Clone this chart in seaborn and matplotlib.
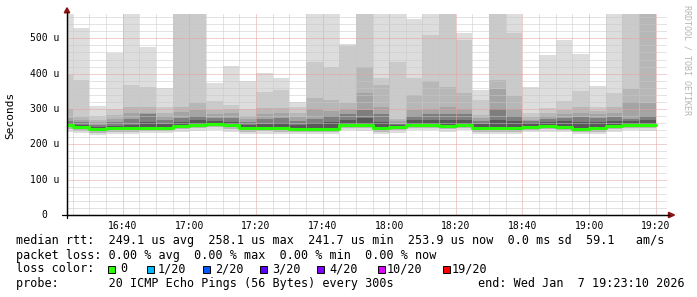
import matplotlib
matplotlib.use("Agg")
import matplotlib.pyplot as plt
import matplotlib.transforms as mtransforms
from matplotlib.patches import Rectangle, Polygon
from matplotlib.lines import Line2D
import numpy as np
import pandas as pd
import seaborn as sns

# ---------------- data (5-minute steps, values in microseconds) ----------------
times = ["16:20", "16:25", "16:30", "16:35", "16:40", "16:45", "16:50", "16:55",
         "17:00", "17:05", "17:10", "17:15", "17:20", "17:25", "17:30", "17:35",
         "17:40", "17:45", "17:50", "17:55", "18:00", "18:05", "18:10", "18:15",
         "18:20", "18:25", "18:30", "18:35", "18:40", "18:45", "18:50", "18:55",
         "19:00", "19:05", "19:10", "19:15"]
end_time = "19:20"

median = [255, 250, 242, 245, 245, 246, 246, 252, 256, 258, 254, 245, 246, 246, 243, 244,
          244, 255, 255, 245, 250, 255, 255, 252, 256, 246, 245, 245, 250, 252, 250, 244,
          246, 252, 255, 254]
ping20 = [640, 528, 308, 457, 640, 476, 360, 640, 640, 374, 421, 380, 401, 387, 321, 640,
          640, 483, 640, 640, 640, 556, 640, 640, 516, 354, 640, 640, 363, 453, 495, 455,
          365, 640, 640, 640]
ping19 = [396, 382, 280, 300, 368, 363, 306, 620, 620, 323, 311, 299, 349, 354, 306, 434,
          420, 478, 620, 387, 434, 387, 509, 620, 495, 325, 620, 514, 288, 302, 323, 352,
          306, 344, 620, 620]
ping18 = [300, 278, 270, 283, 306, 306, 290, 306, 316, 296, 300, 280, 302, 302, 290, 330,
          325, 316, 420, 368, 273, 339, 380, 363, 344, 283, 382, 337, 278, 290, 296, 306,
          295, 306, 357, 610]
ping17 = [275, 270, 262, 272, 290, 288, 280, 292, 296, 285, 288, 272, 285, 290, 278, 300,
          295, 300, 344, 306, 265, 297, 300, 306, 300, 275, 356, 300, 270, 280, 285, 290,
          285, 290, 320, 316]
ping15 = [266, 262, 255, 262, 272, 285, 270, 275, 280, 275, 275, 264, 272, 275, 265, 273,
          280, 285, 297, 285, 258, 280, 285, 285, 285, 266, 300, 280, 265, 272, 275, 278,
          275, 278, 272, 280]
ping13 = [260, 256, 249, 252, 255, 262, 258, 262, 268, 266, 263, 255, 258, 260, 255, 260,
          262, 268, 275, 262, 254, 268, 270, 268, 270, 258, 270, 265, 260, 264, 265, 262,
          262, 266, 265, 268]
ping7 = [250, 245, 238, 241, 241, 242, 242, 248, 251, 253, 250, 241, 242, 242, 239, 240,
         240, 251, 250, 241, 246, 251, 251, 248, 252, 242, 241, 241, 246, 248, 246, 240,
         242, 248, 251, 250]
ping3 = [244, 239, 233, 236, 236, 237, 237, 243, 246, 248, 244, 236, 237, 236, 234, 235,
         235, 246, 245, 236, 240, 246, 246, 243, 247, 236, 236, 236, 241, 243, 241, 235,
         236, 243, 246, 245]
ping1 = [236, 232, 226, 230, 230, 231, 231, 236, 238, 240, 236, 230, 230, 229, 228, 228,
         229, 240, 238, 230, 233, 240, 240, 236, 240, 230, 230, 229, 234, 236, 235, 229,
         229, 236, 240, 238]

xtick_labels = ["16:40", "17:00", "17:20", "17:40", "18:00", "18:20", "18:40", "19:00", "19:20"]
ytick_values = [0, 100, 200, 300, 400, 500]
ytick_labels = ["0", "100 u", "200 u", "300 u", "400 u", "500 u"]

loss_labels = ["0", "1/20", "2/20", "3/20", "4/20", "10/20", "19/20"]
loss_colors = ["#26ff00", "#00b8ff", "#0059ff", "#5e00ff", "#7e00ff", "#dd00ff", "#ff0000"]

line_rtt = "median rtt:  249.1 us avg  258.1 us max  241.7 us min  253.9 us now  0.0 ms sd  59.1   am/s"
line_loss = "packet loss: 0.00 % avg  0.00 % max  0.00 % min  0.00 % now"
line_probe = "probe:       20 ICMP Echo Pings (56 Bytes) every 300s"
line_end = "end: Wed Jan  7 19:23:10 2026"

# ---------------- helpers ----------------
def to_min(s):
    h, m = s.split(":")
    return (int(h) - 16) * 60 + int(m)

x = [to_min(t) for t in times] + [to_min(end_time)]

def ext(a):
    return list(a) + [a[-1]]

W, H = 697, 297
sns.set_style("white")
plt.rcParams['font.family'] = ['DejaVu Sans Mono', 'DejaVu Sans']

fig = plt.figure(figsize=(W / 100, H / 100), dpi=100)
fig.patch.set_facecolor("white")
ax = fig.add_axes([67 / W, (H - 215) / H, 600 / W, 201 / H])
ax.set_facecolor("white")

# smoke: upper halves
upper = [(ping20, "#dddddd"), (ping19, "#cacaca"), (ping18, "#b7b7b7"),
         (ping17, "#a4a4a4"), (ping15, "#7e7e7e"), (ping13, "#585858")]
for arr, c in upper:
    ax.fill_between(x, ext(median), ext(arr), step="post", color=c, lw=0, zorder=1)
lower = [(ping1, "#dddddd"), (ping3, "#b7b7b7"), (ping7, "#5a5a5a")]
for arr, c in lower:
    ax.fill_between(x, ext(arr), ext(median), step="post", color=c, lw=0, zorder=1)

df = pd.DataFrame({"t": x, "median": ext(median)})
sns.lineplot(data=df, x="t", y="median", drawstyle="steps-post", color="#26ff00",
             lw=2.2, ax=ax, zorder=3, legend=False)

# axes limits, grid
x0 = to_min("16:40") - 55.6 / 3.332
ax.set_xlim(x0, x0 + 600 / 3.332)
ax.set_ylim(0, 201 / 0.3534)
ax.set_xticks([to_min(t) for t in xtick_labels])
ax.set_xticklabels(xtick_labels)
ax.set_xticks([to_min(t) for t in times[1:]] + [to_min(end_time)], minor=True)
ax.set_yticks(ytick_values)
ax.set_yticklabels([])
ax.set_yticks(list(range(20, 570, 20)), minor=True)
ax.set_axisbelow(False)
ax.grid(which="major", color="#e6a0a0", linestyle=(0, (1, 1)), linewidth=0.72)
ax.grid(which="minor", color="#c8c8c8", linestyle=(0, (1, 1)), linewidth=0.72)
ax.set_xlabel("")
ax.set_ylabel("")

for s in ["top", "right"]:
    ax.spines[s].set_visible(False)
for s in ["left", "bottom"]:
    ax.spines[s].set_color("black")
    ax.spines[s].set_linewidth(0.9)
    ax.spines[s].set_zorder(4)

ax.tick_params(axis="x", which="major", direction="out", length=2.5, width=0.8,
               color="black", labelsize=7, pad=2.0, labelcolor="black")
ax.tick_params(axis="x", which="minor", length=0)
ax.tick_params(axis="y", which="major", direction="out", length=2, width=0.8, color="black")
ax.tick_params(axis="y", which="minor", length=0)

# y tick labels (rrdtool style: unit suffix)
bt = mtransforms.blended_transform_factory(fig.transFigure, ax.transData)
for v, lab in zip(ytick_values, ytick_labels):
    xr = 59.5 if lab.endswith("u") else 47.5
    ax.text(xr / W, v, lab, transform=bt, ha="right", va="center", fontsize=7,
            color="black")

# axis extensions + arrows
fig.add_artist(Line2D([62 / W, 669 / W], [(H - 215) / H] * 2, color="black", lw=0.9))
fig.add_artist(Line2D([67 / W] * 2, [(H - 218) / H, (H - 12) / H], color="black", lw=0.9))
fig.add_artist(Polygon([[64.3 / W, (H - 12.8) / H], [69.7 / W, (H - 12.8) / H],
                        [67 / W, (H - 7.8) / H]], closed=True, color="#8b1010",
                       transform=fig.transFigure))
fig.add_artist(Polygon([[668.5 / W, (H - 212.3) / H], [668.5 / W, (H - 217.7) / H],
                        [674.5 / W, (H - 215) / H]], closed=True, color="#8b1010",
                       transform=fig.transFigure))

# labels
fig.text(10 / W, 1 - 115 / H, "Seconds", rotation=90, ha="center", va="center",
         fontsize=8, color="black")
fig.text(687 / W, 1 - 60 / H, "RRDTOOL / TOBI OETIKER", rotation=270, ha="center",
         va="center", fontsize=6, color="#b4b4b4")

FS = 8.5
fig.text(16 / W, 1 - 240.7 / H, line_rtt, ha="left", va="center", fontsize=FS, color="black")
fig.text(16 / W, 1 - 255 / H, line_loss, ha="left", va="center", fontsize=FS, color="black")
fig.text(16 / W, 1 - 269 / H, "loss color:", ha="left", va="center", fontsize=FS, color="black")
sq_x = [108.3, 146.7, 203.3, 260, 316.7, 378, 443]
lab_x = [120, 158, 215, 272, 329, 387, 452]
for sx, lx, lab, col in zip(sq_x, lab_x, loss_labels, loss_colors):
    fig.add_artist(Rectangle((sx / W, 1 - 272.5 / H), 7 / W, 7 / H, facecolor=col,
                             edgecolor="black", lw=0.7, transform=fig.transFigure))
    fig.text(lx / W, 1 - 269 / H, lab, ha="left", va="center", fontsize=FS, color="black")
fig.text(16 / W, 1 - 283.3 / H, line_probe, ha="left", va="center", fontsize=FS, color="black")
fig.text(478 / W, 1 - 283.3 / H, line_end, ha="left", va="center", fontsize=FS, color="black")

fig.savefig("out.png", dpi=100, facecolor="white")
